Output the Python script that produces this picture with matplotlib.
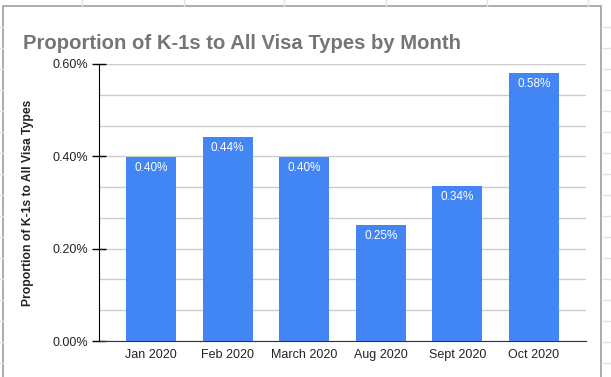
import numpy as np
import matplotlib.pyplot as plt
from matplotlib.ticker import MultipleLocator, FuncFormatter
from matplotlib.lines import Line2D
from matplotlib.patches import Rectangle

months = ["Jan 2020", "Feb 2020", "March 2020", "Aug 2020", "Sept 2020", "Oct 2020"]
share = [0.399, 0.442, 0.398, 0.252, 0.336, 0.580]
share_labels = ["0.40%", "0.44%", "0.40%", "0.25%", "0.34%", "0.58%"]

plt.rcParams['font.family'] = ['Liberation Sans', 'DejaVu Sans']

W, H = 611, 377
fig = plt.figure(figsize=(W / 100, H / 100), dpi=100)

# spreadsheet cells peeking out around the chart
for x in [82, 184, 284, 386, 487, 588]:
    fig.add_artist(Line2D([x / W, x / W], [1 - 6 / H, 1], color='#e2e2e2', lw=1))
for y in range(27, 377, 21):
    fig.add_artist(Line2D([0, 3 / W], [1 - y / H, 1 - y / H], color='#e2e2e2', lw=1))
    fig.add_artist(Line2D([603 / W, 1], [1 - y / H, 1 - y / H], color='#e2e2e2', lw=1))
fig.add_artist(Rectangle((3 / W, -0.01), 598 / W, 1 - 6 / H + 0.01, fill=False,
                         edgecolor='#9e9e9e', lw=1.2))

ax = fig.add_axes([99 / W, (H - 341) / H, (586 - 99) / W, (341 - 64) / H])
x = np.arange(len(months))
bars = ax.bar(x, share, width=0.65, color='#4285f4', zorder=3)

for b, lab in zip(bars, share_labels):
    ax.annotate(lab, (b.get_x() + b.get_width() / 2, b.get_height()),
                xytext=(0, -8), textcoords='offset points', ha='center', va='center',
                color='white', fontsize=8.5, zorder=4)

ax.set_xlim(-0.68, len(months) - 1 + 0.68)
ax.set_ylim(0, 0.6)
ax.set_xticks(x)
ax.set_xticklabels(months, fontsize=9, color='#222222')
ax.yaxis.set_major_locator(MultipleLocator(0.2))
ax.yaxis.set_minor_locator(MultipleLocator(0.2 / 3))
ax.yaxis.set_major_formatter(FuncFormatter(lambda v, p: f"{v:.2f}%"))
ax.tick_params(axis='y', which='major', direction='inout', length=10, width=1,
               labelsize=9, labelcolor='#222222', pad=3)
ax.tick_params(axis='y', which='minor', length=0)
ax.tick_params(axis='x', length=0, pad=6)
ax.grid(axis='y', which='both', color='#cccccc', lw=1, zorder=0)

for s in ['top', 'right']:
    ax.spines[s].set_visible(False)
ax.spines['left'].set_color('black')
ax.spines['bottom'].set_color('#333333')
ax.spines['left'].set_zorder(5)

ax.set_ylabel("Proportion of K-1s to All Visa Types", fontsize=8.7, fontweight='bold',
              color='#222222', labelpad=13)

fig.text(23 / W, 1 - 49 / H, "Proportion of K-1s to All Visa Types by Month",
         fontsize=14.6, fontweight='bold', color='#757575', va='baseline', ha='left')

fig.savefig("out.png", dpi=100)
